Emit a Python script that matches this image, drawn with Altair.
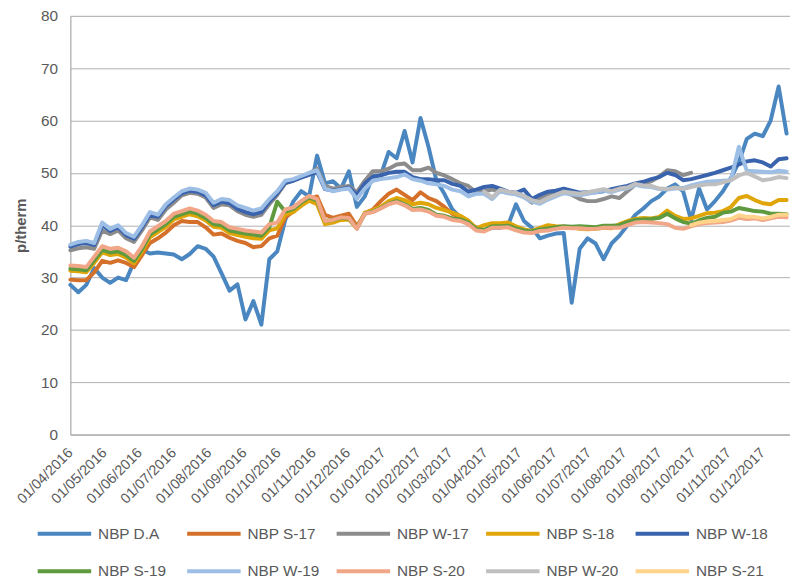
import altair as alt
import pandas as pd

# ---- data -----------------------------------------------------------------
week_start = "2016-04-01"
n_weeks = 91
dates = pd.date_range(week_start, periods=n_weeks, freq="7D")

series_names = ["NBP D.A", "NBP S-17", "NBP W-17", "NBP S-18", "NBP W-18",
                "NBP S-19", "NBP W-19", "NBP S-20", "NBP W-20", "NBP S-21"]
colors = ["#4A86C0", "#D5702B", "#8C8C8C", "#E0A509", "#3A63AD",
          "#5F9A3F", "#9DBEE5", "#F1A687", "#BFBFBF", "#FFD38A"]

nbp_da = [28.6, 27.2, 28.6, 31.8, 30.0, 29.0, 30.0, 29.5, 33.0, 35.3,
          34.6, 34.8, 34.6, 34.4, 33.5, 34.5, 36.0, 35.5, 34.0, 30.8,
          27.5, 28.7, 22.0, 25.5, 21.0, 33.5, 35.0, 41.0, 44.5, 46.5,
          45.5, 53.3, 48.0, 48.4, 47.0, 50.3, 43.5, 45.5, 49.4, 49.5,
          54.0, 52.8, 58.0, 52.0, 60.5, 55.0, 48.5, 46.0, 43.0, 41.5,
          40.5, 39.5, 39.0, 39.5, 39.5, 40.0, 44.0, 40.8, 39.5, 37.5,
          38.0, 38.4, 38.5, 25.2, 35.5, 37.5, 36.5, 33.5, 36.5, 38.0,
          40.0, 42.0, 43.2, 44.6, 45.5, 47.0, 47.8, 46.5, 41.0, 47.0,
          43.0, 44.6, 46.5, 49.0, 52.0, 56.5, 57.5, 57.0, 60.0, 66.5, 57.5]

nbp_s17 = [29.6, 29.5, 29.5, 31.0, 33.2, 32.8, 33.3, 32.8, 32.0, 34.3,
           36.6, 37.5, 38.6, 40.0, 40.8, 40.6, 40.6, 39.6, 38.2, 38.4,
           37.6, 37.0, 36.6, 35.8, 36.0, 37.5, 38.0, 41.5, 42.6, 44.0,
           45.0, 45.5, 42.0, 41.4, 41.8, 42.2, 39.8, 42.2, 43.0, 44.6,
           46.0, 46.8, 45.8, 44.8, 46.3, 45.2, 44.6, 43.5, 42.2, 41.4,
           40.2, 39.6] + [None] * 39

nbp_w17 = [35.2, 35.6, 35.8, 35.5, 39.0, 38.3, 39.0, 37.5, 36.8, 39.0,
           41.5, 41.0, 43.0, 44.3, 45.7, 46.2, 46.0, 45.3, 43.3, 44.0,
           43.8, 42.7, 42.0, 41.6, 42.0, 44.0, 45.8, 48.0, 48.5, 49.2,
           49.9, 50.8, 47.5, 47.0, 47.3, 47.5, 46.3, 48.5, 50.3, 50.3,
           50.8, 51.6, 51.8, 50.5, 50.5, 51.0, 50.0, 49.5, 48.8, 48.0,
           47.5, 46.3, 46.5, 46.8, 46.5, 46.2, 46.0, 45.5, 44.3, 45.2,
           45.8, 46.2, 46.5, 45.8, 45.0, 44.6, 44.6, 45.0, 45.5, 45.2,
           46.5, 47.8, 48.0, 48.4, 49.3, 50.5, 50.3, 49.6, 50.0] + [None] * 12

nbp_s18 = [31.3, 31.2, 31.0, 32.8, 34.8, 34.3, 34.5, 33.8, 32.7, 34.9,
           37.7, 38.7, 39.7, 41.1, 41.6, 42.1, 41.7, 40.9, 39.7, 39.5,
           38.5, 38.1, 37.8, 37.5, 37.4, 39.0, 39.4, 42.0, 42.5, 43.7,
           44.7, 44.0, 40.2, 40.5, 41.0, 41.1, 39.4, 42.4, 42.9, 43.5,
           44.6, 45.2, 44.8, 44.0, 44.3, 44.0, 43.3, 42.9, 42.4, 41.8,
           40.9, 39.4, 40.0, 40.4, 40.4, 40.5, 39.8, 39.2, 38.9, 39.5,
           40.0, 39.8, 39.7, 39.6, 39.3, 39.2, 39.3, 39.5, 39.4, 40.2,
           40.8, 41.2, 41.4, 41.3, 41.6, 42.8, 41.8, 41.2, 41.3, 41.8,
           42.3, 42.4, 42.7, 43.5, 45.2, 45.6, 44.8, 44.2, 44.0, 44.8, 44.8]

nbp_w18 = [35.9, 36.4, 36.6, 36.2, 40.0, 38.9, 39.6, 38.1, 37.4, 39.6,
           42.0, 41.6, 43.6, 44.9, 46.1, 46.6, 46.4, 45.7, 43.8, 44.5,
           44.2, 43.1, 42.5, 42.1, 42.5, 44.5, 46.1, 48.1, 48.5, 49.1,
           49.6, 50.2, 46.9, 46.6, 46.9, 47.2, 45.8, 48.0, 49.2, 49.5,
           50.0, 50.2, 50.2, 49.2, 48.8, 48.8, 48.6, 48.6, 47.9, 47.5,
           46.4, 46.8, 47.3, 47.5, 47.0, 46.4, 46.2, 46.8, 45.0, 45.8,
           46.4, 46.6, 47.0, 46.6, 46.2, 46.3, 46.3, 46.5, 46.9, 47.2,
           47.5, 48.0, 48.3, 48.8, 49.2, 50.0, 49.6, 48.6, 48.8, 49.2,
           49.6, 50.0, 50.5, 51.0, 51.6, 52.2, 52.4, 52.0, 51.2, 52.6, 52.8]

nbp_s19 = [31.7, 31.6, 31.4, 33.3, 35.3, 34.8, 35.0, 34.3, 33.2, 35.4,
           38.2, 39.2, 40.2, 41.6, 42.1, 42.6, 42.2, 41.4, 40.2, 40.0,
           39.0, 38.7, 38.4, 38.2, 38.0, 39.6, 44.5, 42.6, 43.1, 44.3,
           45.3, 44.7, 40.8, 41.0, 41.4, 41.3, 39.4, 42.2, 42.6, 43.3,
           44.1, 44.6, 44.0, 43.1, 43.3, 42.9, 42.0, 41.8, 41.3, 41.1,
           40.5, 39.3, 39.1, 39.8, 39.8, 39.9, 39.4, 39.0, 38.8, 39.2,
           39.4, 39.6, 39.8, 39.7, 39.8, 39.7, 39.6, 39.9, 39.9, 40.0,
           40.6, 41.0, 41.1, 41.2, 41.4, 42.2, 41.3, 40.6, 40.3, 40.9,
           41.4, 41.6, 42.4, 42.6, 43.3, 43.0, 42.7, 42.6, 42.2, 42.2, 42.1]

nbp_w19 = [36.3, 36.8, 37.0, 36.6, 40.5, 39.3, 40.0, 38.5, 37.8, 40.0,
           42.5, 42.0, 44.0, 45.3, 46.5, 47.0, 46.8, 46.2, 44.3, 45.0,
           44.8, 43.8, 43.3, 42.8, 43.2, 45.0, 46.5, 48.5, 48.8, 49.4,
           50.0, 50.5, 47.0, 46.5, 46.8, 47.0, 45.0, 47.0, 48.5, 48.8,
           49.0, 49.2, 49.7, 48.8, 48.5, 48.0, 47.8, 47.5, 46.8, 46.5,
           45.5, 46.0, 46.0, 45.0, 46.5, 46.1, 45.9, 45.3, 44.5, 44.1,
           44.9, 45.5, 46.1, 45.9, 45.7, 46.0, 46.3, 46.6, 46.3, 46.8,
           47.0, 47.7, 47.4, 47.3, 46.9, 46.8, 47.0, 47.1, 47.6, 48.0,
           48.3, 48.4, 48.5, 48.6, 55.0, 50.4, 50.3, 50.2, 50.1, 50.4, 50.2]

nbp_s20 = [32.3, 32.2, 32.0, 34.0, 36.0, 35.5, 35.7, 35.0, 33.8, 36.0,
           38.8, 39.8, 40.8, 42.2, 42.7, 43.2, 42.8, 42.0, 40.8, 40.6,
           39.6, 39.3, 39.0, 38.8, 38.6, 40.2, 40.5, 43.0, 43.4, 44.6,
           45.6, 45.0, 40.8, 41.0, 41.5, 41.4, 39.3, 42.2, 42.5, 43.2,
           44.0, 44.4, 43.8, 42.9, 43.0, 42.6, 41.8, 41.6, 41.0, 40.8,
           40.2, 39.0, 38.8, 39.5, 39.5, 39.6, 39.0, 38.6, 38.5, 38.9,
           39.0, 39.3, 39.5, 39.4, 39.4, 39.3, 39.3, 39.5, 39.5, 39.5,
           40.0, 40.5, 40.6, 40.5, 40.4, 40.2, 39.5, 39.3, 39.8, 40.2,
           40.4, 40.5, 40.6, 40.9, 41.4, 41.2, 41.3, 41.0, 41.3, 41.6, 41.5]

nbp_w20 = [None] * 52 + [
           46.4, 45.3, 46.8, 46.4, 46.2, 45.6, 44.8, 44.4, 45.2, 45.8,
           46.4, 46.2, 46.0, 46.3, 46.6, 46.9, 46.5, 47.0, 47.2, 47.9,
           47.6, 47.5, 47.0, 46.9, 47.2, 46.9, 47.3, 47.6, 47.8, 47.8,
           48.2, 48.6, 49.5, 50.0, 49.3, 48.6, 48.8, 49.2, 49.0]

nbp_s21 = [None] * 78 + [40.0, 40.5, 40.7, 40.8, 41.0, 41.2, 41.9, 41.6,
                         41.6, 41.3, 41.6, 42.0, 42.0]

y_ticks = [0, 10, 20, 30, 40, 50, 60, 70, 80]

all_values = [nbp_da, nbp_s17, nbp_w17, nbp_s18, nbp_w18,
              nbp_s19, nbp_w19, nbp_s20, nbp_w20, nbp_s21]

rows = []
for name, vals in zip(series_names, all_values):
    assert len(vals) == n_weeks, (name, len(vals))
    for d, v in zip(dates, vals):
        if v is not None:
            rows.append({"date": d.strftime("%Y-%m-%dT00:00:00"), "series": name, "value": v})
df = pd.DataFrame(rows)

# ---- chart ----------------------------------------------------------------
FONT = "Liberation Sans"
TXT = "#595959"

month_ticks = []
for y, m in [(2016, m) for m in range(4, 13)] + [(2017, m) for m in range(1, 13)]:
    month_ticks.append(alt.DateTime(year=y, month=m, date=1))

x_enc = alt.X(
    "date:T",
    scale=alt.Scale(domain=[alt.DateTime(year=2016, month=4, date=1),
                            alt.DateTime(year=2017, month=12, date=25)]),
    axis=alt.Axis(values=month_ticks, format="%d/%m/%Y", labelAngle=-45,
                  labelAlign="right", labelBaseline="middle", labelFontSize=14.5,
                  labelColor=TXT, labelFont=FONT, ticks=False, grid=False,
                  domain=True, domainColor="#A6A6A6", domainWidth=1,
                  labelPadding=16, labelOverlap=False, title=None),
)
y_enc = alt.Y(
    "value:Q",
    scale=alt.Scale(domain=[0, 80], nice=False),
    axis=alt.Axis(values=y_ticks, ticks=False, grid=True, gridColor="#B0B0B0",
                  gridWidth=1, domain=True, domainColor="#A6A6A6",
                  labelFontSize=15.5, labelColor=TXT, labelFont=FONT,
                  labelPadding=13, title="p/therm", titleFontSize=15,
                  titleFontWeight="bold", titleColor=TXT, titleFont=FONT,
                  titlePadding=12),
)
color_enc = alt.Color(
    "series:N",
    scale=alt.Scale(domain=series_names, range=colors),
    legend=alt.Legend(orient="none", legendX=-35, legendY=494, direction="horizontal",
                      columns=5, symbolType="stroke", symbolSize=2916,
                      symbolStrokeWidth=4, labelFontSize=15.5, labelColor=TXT,
                      labelFont=FONT, columnPadding=9, rowPadding=-16,
                      gridAlign="all", title=None, labelOffset=5, padding=0),
)

layers = []
for name in series_names:
    layers.append(
        alt.Chart(df)
        .transform_filter(alt.datum.series == name)
        .mark_line(strokeWidth=4, strokeJoin="round", strokeCap="round")
        .encode(x=x_enc, y=y_enc, color=color_enc)
    )

chart = (
    alt.layer(*layers)
    .properties(width=727, height=423,
                autosize=alt.AutoSizeParams(type="none"),
                padding={"left": 63, "top": 5, "right": 0, "bottom": 145})
    .configure_view(strokeWidth=0)
    .configure(font=FONT)
)

chart.save("out.html", embed_options={"renderer": "svg", "actions": False})
